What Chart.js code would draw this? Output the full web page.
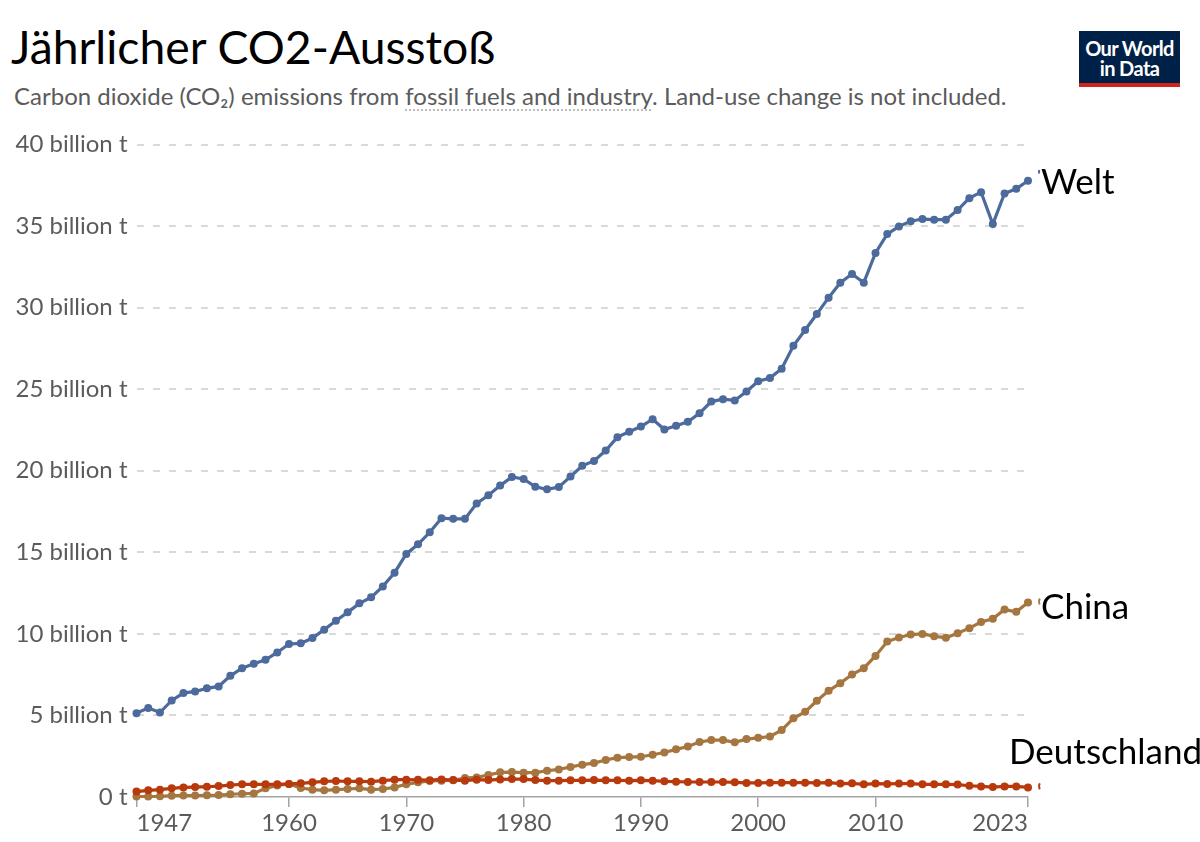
<!DOCTYPE html>
<html lang="de">
<head>
<meta charset="utf-8">
<title>Jährlicher CO2-Ausstoß</title>
<script src="https://cdn.jsdelivr.net/npm/chart.js@4"></script>
<style>
    html, body { margin: 0; padding: 0; background: #fff; }
    body { position: relative; width: 1200px; height: 842px; overflow: hidden; font-family: Lato, sans-serif; }
    canvas { position: absolute; left: 0; top: 0; }
    .text { position: absolute; white-space: nowrap; line-height: 1; }
    #title { left: 11px; top: 23px; font-size: 46.3px; color: #000; }
    #subtitle { left: 14px; top: 84px; font-size: 24px; color: #5b5b5b; }
    #subtitle span { text-decoration: underline dotted #bdbdbd 2px; text-underline-offset: 4px; }
    .series-label { font-size: 35px; color: #000; }
    #logo { position: absolute; left: 1079px; top: 31px; width: 101px; height: 45px; background: #002147; border-bottom: 4px solid #ce261e;
            color: #fff; font-weight: 700; font-size: 20px; line-height: 20px; text-align: center; padding-top: 7px; letter-spacing: -0.6px; }
</style>
</head>
<body>
<div class="text" id="title">Jährlicher CO2-Ausstoß</div>
<div class="text" id="subtitle">Carbon dioxide (CO₂) emissions from <span>fossil fuels and industry</span>. Land-use change is not included.</div>
<div id="logo">Our World<br>in Data</div>
<canvas id="co2Chart" width="1200" height="842"></canvas>
<div class="text series-label" style="left:1041px;top:163px">Welt</div>
<div class="text series-label" style="left:1041px;top:588px">China</div>
<div class="text series-label" style="left:1009px;top:733px">Deutschland</div>
<script>
// Data (billion t)
const years = [1947, 1948, 1949, 1950, 1951, 1952, 1953, 1954, 1955, 1956, 1957, 1958, 1959,
    1960, 1961, 1962, 1963, 1964, 1965, 1966, 1967, 1968, 1969,
    1970, 1971, 1972, 1973, 1974, 1975, 1976, 1977, 1978, 1979,
    1980, 1981, 1982, 1983, 1984, 1985, 1986, 1987, 1988, 1989,
    1990, 1991, 1992, 1993, 1994, 1995, 1996, 1997, 1998, 1999,
    2000, 2001, 2002, 2003, 2004, 2005, 2006, 2007, 2008, 2009,
    2010, 2011, 2012, 2013, 2014, 2015, 2016, 2017, 2018, 2019,
    2020, 2021, 2022, 2023];

const worldValues = [5.14, 5.45, 5.18, 5.92, 6.37, 6.47, 6.66, 6.78, 7.43, 7.9, 8.17, 8.41, 8.86,
    9.38, 9.42, 9.74, 10.26, 10.8, 11.32, 11.87, 12.24, 12.91, 13.75,
    14.9, 15.49, 16.23, 17.09, 17.05, 17.05, 18.0, 18.5, 19.09, 19.62,
    19.5, 19.02, 18.86, 19.0, 19.65, 20.3, 20.6, 21.24, 22.06, 22.39,
    22.71, 23.16, 22.53, 22.76, 23.0, 23.53, 24.24, 24.39, 24.31, 24.86,
    25.49, 25.69, 26.26, 27.66, 28.63, 29.61, 30.61, 31.53, 32.06, 31.53,
    33.35, 34.51, 34.98, 35.3, 35.43, 35.39, 35.39, 35.98, 36.71, 37.08,
    35.12, 37.0, 37.29, 37.78];

const chinaValues = [0.03, 0.03, 0.04, 0.08, 0.09, 0.09, 0.1, 0.12, 0.17, 0.2, 0.22, 0.53, 0.71,
    0.8, 0.55, 0.45, 0.41, 0.45, 0.49, 0.53, 0.45, 0.49, 0.59,
    0.78, 0.9, 0.98, 1.0, 1.02, 1.16, 1.2, 1.35, 1.51, 1.53,
    1.49, 1.49, 1.61, 1.69, 1.84, 1.98, 2.08, 2.27, 2.41, 2.45,
    2.47, 2.59, 2.73, 2.92, 3.1, 3.37, 3.49, 3.49, 3.35, 3.55,
    3.63, 3.71, 4.1, 4.82, 5.22, 5.9, 6.51, 6.98, 7.51, 7.9,
    8.65, 9.53, 9.78, 9.96, 10.0, 9.86, 9.76, 10.04, 10.35, 10.73,
    10.92, 11.49, 11.35, 11.92];

const germanyValues = [0.33, 0.41, 0.45, 0.53, 0.59, 0.61, 0.63, 0.67, 0.73, 0.78, 0.78, 0.78, 0.78,
    0.8, 0.84, 0.9, 0.96, 0.98, 0.96, 0.96, 0.94, 1.0, 1.06,
    1.06, 1.05, 1.03, 1.08, 1.04, 1.0, 1.06, 1.04, 1.08, 1.1,
    1.1, 1.04, 1.0, 1.0, 1.02, 1.02, 1.04, 1.02, 1.02, 1.0,
    1.02, 1.0, 0.96, 0.94, 0.92, 0.92, 0.92, 0.92, 0.9, 0.86,
    0.86, 0.88, 0.88, 0.88, 0.88, 0.86, 0.88, 0.82, 0.84, 0.78,
    0.82, 0.8, 0.82, 0.82, 0.78, 0.78, 0.78, 0.76, 0.69, 0.65,
    0.61, 0.65, 0.65, 0.59];

const xTickYears = [1947, 1960, 1970, 1980, 1990, 2000, 2010, 2023];

const WORLD_COLOR = '#4c6a9c';
const CHINA_COLOR = '#a5763f';
const GERMANY_COLOR = '#b83a0c';
const TICK_COLOR = '#5b5b5b';

const makeDataset = (label, values, color) => ({
    label: label,
    data: values.map((v, i) => ({ x: years[i], y: v })),
    borderColor: color,
    backgroundColor: color,
    borderWidth: 3.2,
    pointRadius: 4,
    pointBorderWidth: 0,
    tension: 0,
    clip: false
});

// First and last year labels sit inside the axis ends
const edgeLabels = {
    id: 'edgeLabels',
    beforeDraw(chart) {
        const items = chart.scales.x.getLabelItems();
        items[0].options.textAlign = 'left';
        items[items.length - 1].options.textAlign = 'right';
    }
};

// Little cut-off marks left of the series labels in the original
const labelSlivers = {
    id: 'labelSlivers',
    afterDraw(chart) {
        const { ctx } = chart;
        chart.data.datasets.forEach((ds, i) => {
            const last = chart.getDatasetMeta(i).data[years.length - 1];
            const isWorld = ds.label === 'Welt';
            ctx.save();
            ctx.strokeStyle = ds.borderColor;
            ctx.lineWidth = 2;
            ctx.beginPath();
            ctx.arc(last.x + 18, last.y + (isWorld ? -9 : -1), 7, isWorld ? 2.9 : 2.7, isWorld ? 3.4 : 3.6);
            ctx.stroke();
            ctx.restore();
        });
    }
};

new Chart(document.getElementById('co2Chart').getContext('2d'), {
    type: 'line',
    data: {
        datasets: [
            makeDataset('Welt', worldValues, WORLD_COLOR),
            makeDataset('Deutschland', germanyValues, GERMANY_COLOR),
            makeDataset('China', chinaValues, CHINA_COLOR)
        ]
    },
    options: {
        responsive: false,
        animation: false,
        layout: { padding: { top: 144.5, right: 172, left: 0, bottom: 0 } },
        plugins: { legend: { display: false }, tooltip: { enabled: false } },
        scales: {
            x: {
                type: 'linear',
                min: 1947,
                max: 2023,
                afterBuildTicks: (scale) => { scale.ticks = xTickYears.map(value => ({ value })); },
                afterFit: (scale) => { scale.height = 45; },
                border: { color: '#a3a3a3', width: 1.5 },
                grid: { drawOnChartArea: false, drawTicks: true, tickLength: 10, color: '#a3a3a3', lineWidth: 1.5 },
                ticks: {
                    autoSkip: false,
                    maxRotation: 0,
                    padding: 2,
                    color: TICK_COLOR,
                    font: { family: 'Lato', size: 24 },
                    callback: (v) => String(v)
                }
            },
            y: {
                min: 0,
                max: 40,
                afterFit: (scale) => { scale.width = 136.5; },
                border: { display: false, dash: [7, 9] },
                grid: {
                    drawTicks: false,
                    color: '#d9d9d9',
                    lineWidth: (c) => (c.tick.value === 0 ? 0 : 2)
                },
                ticks: {
                    stepSize: 5,
                    padding: 9,
                    color: TICK_COLOR,
                    font: { family: 'Lato', size: 24 },
                    callback: (v) => (v === 0 ? '0 t' : v + ' billion t')
                }
            }
        }
    },
    plugins: [edgeLabels, labelSlivers]
});
</script>
</body>
</html>
